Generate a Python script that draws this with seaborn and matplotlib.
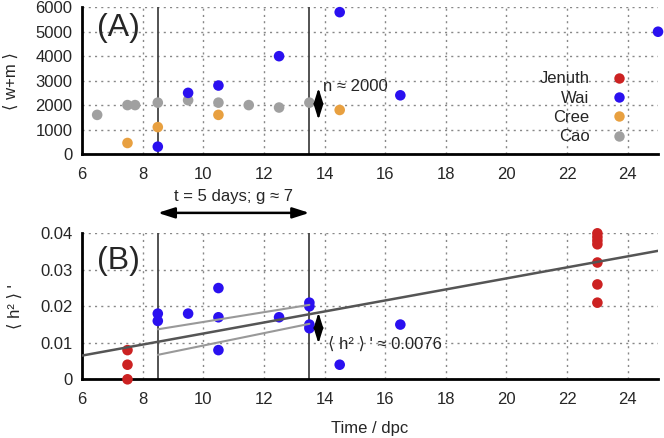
import numpy as np
import pandas as pd
import matplotlib
matplotlib.use("Agg")
import matplotlib.pyplot as plt
from matplotlib.lines import Line2D
import seaborn as sns

# Panel A: <w+m> per day
cao_x = [6.5, 7.5, 7.75, 8.5, 9.5, 10.5, 11.5, 12.5, 13.5]
cao_wm = [1600, 2000, 2000, 2100, 2200, 2100, 2000, 1900, 2100]
cree_x = [7.5, 8.5, 10.5, 14.5]
cree_wm = [450, 1100, 1600, 1800]
wai_x_a = [8.5, 9.5, 10.5, 12.5, 14.5, 16.5, 25]
wai_wm = [300, 2500, 2800, 4000, 5800, 2400, 5000]

# Panel B: <h2>'
jen_x = [7.5, 7.5, 7.5, 23, 23, 23, 23, 23, 23, 23]
jen_h2 = [0.0, 0.004, 0.008, 0.021, 0.026, 0.032, 0.037, 0.038, 0.039, 0.040]
wai_x_b = [8.5, 8.5, 9.5, 10.5, 10.5, 10.5, 12.5, 13.5, 13.5, 13.5, 13.5, 14.5, 16.5]
wai_h2 = [0.018, 0.016, 0.018, 0.025, 0.017, 0.008, 0.017, 0.021, 0.020, 0.015, 0.014, 0.004, 0.015]

# fit line and band
fit_x = [6, 25]
fit_y = [0.0065, 0.0352]
band_x = [8.5, 13.5]
band_hi = [0.0137, 0.0204]
band_lo = [0.0067, 0.0152]

groups = ["Jenuth", "Wai", "Cree", "Cao"]
colors = {"Jenuth": "#cc2222", "Wai": "#2a10f0", "Cree": "#e8a040", "Cao": "#a0a0a0"}

df_a = pd.DataFrame({
    "day": cao_x + cree_x + wai_x_a,
    "wm": cao_wm + cree_wm + wai_wm,
    "group": ["Cao"] * len(cao_x) + ["Cree"] * len(cree_x) + ["Wai"] * len(wai_x_a),
})
df_b = pd.DataFrame({
    "day": jen_x + wai_x_b,
    "h2": jen_h2 + wai_h2,
    "group": ["Jenuth"] * len(jen_x) + ["Wai"] * len(wai_x_b),
})

sns.set_style("white")
plt.rcParams["font.family"] = ["Liberation Sans", "DejaVu Sans"]
FS = 12

fig = plt.figure(figsize=(6.64, 4.38), dpi=100)
ax_a = fig.add_axes([0.1235, 0.6484, 0.8675, 0.335])
ax_b = fig.add_axes([0.1235, 0.134, 0.8675, 0.3333])


def style_axes(ax, ylim, yticks):
    ax.set_xlim(6, 25)
    ax.set_ylim(*ylim)
    ax.set_xticks(np.arange(6, 25, 2))
    ax.set_yticks(yticks)
    ax.grid(True, linestyle=(0, (1.5, 3)), color="#888888", linewidth=1)
    ax.set_axisbelow(True)
    for s in ["top", "right"]:
        ax.spines[s].set_visible(False)
    for s in ["left", "bottom"]:
        ax.spines[s].set_linewidth(2)
        ax.spines[s].set_color("black")
    ax.tick_params(direction="in", length=7, width=2, labelsize=FS)
    ax.tick_params(axis="x", pad=9)
    ax.tick_params(axis="y", pad=7)
    for x in [8.5, 13.5]:
        ax.axvline(x, color="#444444", linewidth=1.3, zorder=2)


arrow_v = dict(arrowstyle="<|-|>,head_length=0.9,head_width=0.28",
               color="black", lw=1.5, shrinkA=0, shrinkB=0)

sns.scatterplot(data=df_a, x="day", y="wm", hue="group", palette=colors,
                s=58, edgecolor="none", legend=False, ax=ax_a, zorder=3, clip_on=False)
style_axes(ax_a, (0, 6000), np.arange(0, 6001, 1000))
ax_a.set_xlabel("")
ax_a.set_ylabel("\u27e8 w+m \u27e9", fontsize=FS, labelpad=12)
ax_a.text(6.5, 5150, "(A)", fontsize=23, va="center")
ax_a.annotate("", xy=(13.8, 2700), xytext=(13.8, 1400), arrowprops=arrow_v)
ax_a.text(13.95, 2780, "n \u2248 2000", fontsize=FS, va="center")

handles = [Line2D([], [], marker="o", linestyle="", markersize=7.5,
                  markerfacecolor=colors[g], markeredgecolor="none") for g in groups]
ax_a.legend(handles, groups, loc="upper right", bbox_to_anchor=(0.962, 0.62),
            frameon=False, markerfirst=False, fontsize=FS, labelspacing=0.26,
            handletextpad=1.3, handlelength=1.0, borderpad=0)

sns.scatterplot(data=df_b, x="day", y="h2", hue="group", palette=colors,
                s=58, edgecolor="none", legend=False, ax=ax_b, zorder=3, clip_on=False)
style_axes(ax_b, (0, 0.04), [0, 0.01, 0.02, 0.03, 0.04])
ax_b.set_yticklabels(["0", "0.01", "0.02", "0.03", "0.04"])
ax_b.set_xlabel("Time / dpc", fontsize=FS, labelpad=10)
ax_b.set_ylabel("\u27e8 h\u00b2 \u27e9 '", fontsize=FS, labelpad=12)
ax_b.plot(fit_x, fit_y, color="#555555", linewidth=1.8, zorder=4)
ax_b.plot(band_x, band_hi, color="#999999", linewidth=1.5, zorder=4)
ax_b.plot(band_x, band_lo, color="#999999", linewidth=1.5, zorder=4)
ax_b.text(6.5, 0.0325, "(B)", fontsize=23, va="center")
ax_b.annotate("", xy=(13.8, 0.0183), xytext=(13.8, 0.0098), arrowprops=arrow_v)
ax_b.text(14.1, 0.0097, "\u27e8 h\u00b2 \u27e9 ' \u2248 0.0076", fontsize=FS, va="center")

# arrow between panels spanning the 5 days
ax_b.annotate("", xy=(8.5, 0.0456), xytext=(13.5, 0.0456), annotation_clip=False,
              arrowprops=dict(arrowstyle="<|-|>,head_length=1.0,head_width=0.32",
                              color="black", lw=1.8, shrinkA=0, shrinkB=0))
ax_b.text(11.0, 0.0500, "t = 5 days; g \u2248 7", fontsize=FS, ha="center", va="center")

fig.savefig("out.png", dpi=100)
